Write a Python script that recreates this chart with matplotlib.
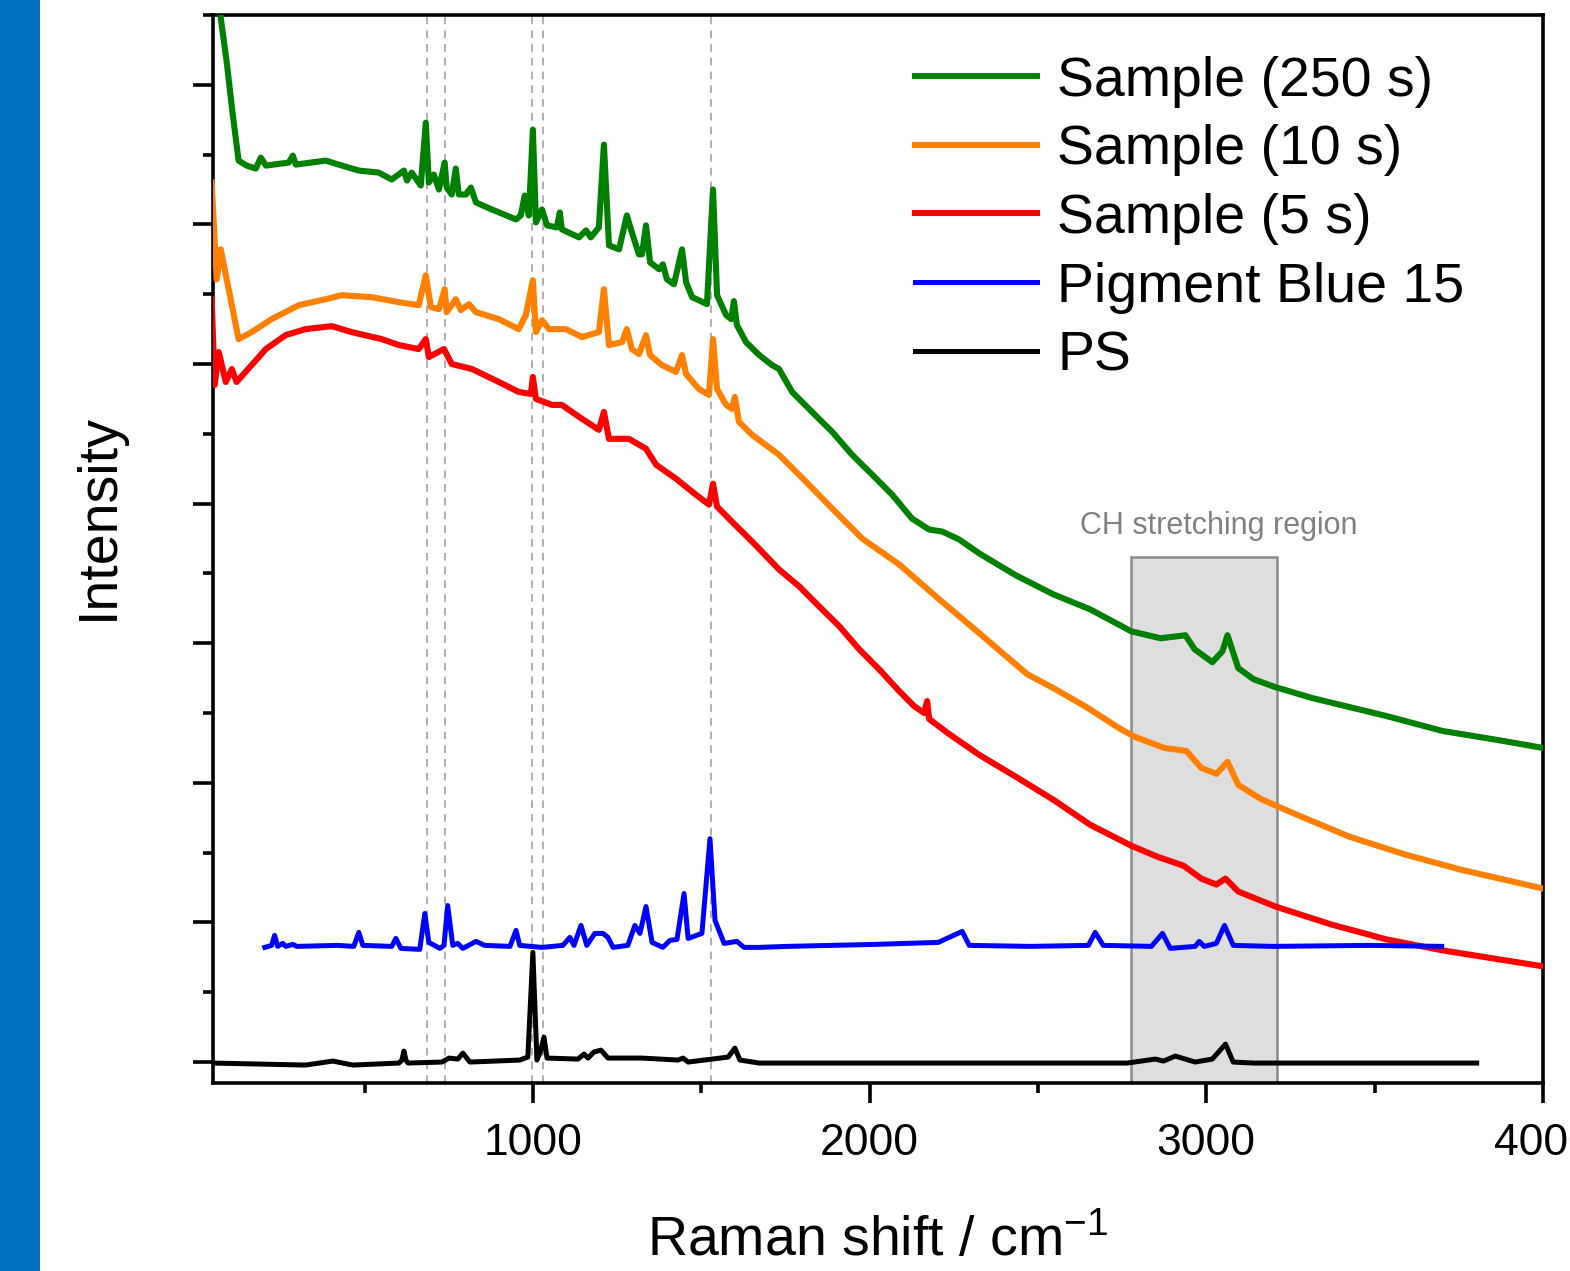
import matplotlib
matplotlib.use("Agg")
import matplotlib.pyplot as plt
from matplotlib.patches import Rectangle
from matplotlib.ticker import MultipleLocator

plt.rcParams['font.family'] = ['Liberation Sans', 'DejaVu Sans']
plt.rcParams['mathtext.fontset'] = 'custom'
plt.rcParams['mathtext.rm'] = 'Liberation Sans'
plt.rcParams['mathtext.default'] = 'regular'

# Raman shift (cm-1) and intensity (a.u.)
green_x = [67, 73, 91, 108, 126, 150, 177, 192, 207, 275, 287, 296, 385, 423, 483, 542, 581, 617, 626, 640,
           667, 682, 691, 706, 721, 738, 744, 759, 771, 780, 801, 816, 831, 878, 950, 964, 976, 988, 1000, 1009,
           1027, 1042, 1071, 1080, 1086, 1137, 1158, 1172, 1196, 1211, 1226, 1256, 1279, 1294, 1315, 1324, 1336,
           1348, 1375, 1386, 1398, 1419, 1443, 1455, 1473, 1493, 1517, 1535, 1547, 1574, 1589, 1597, 1606, 1633,
           1672, 1710, 1731, 1770, 1829, 1889, 1948, 2008, 2067, 2126, 2177, 2216, 2266, 2326, 2435, 2546, 2655,
           2777, 2864, 2938, 2965, 3018, 3048, 3063, 3095, 3140, 3205, 3315, 3425, 3535, 3702, 3865, 4000]
green_y = [1092, 1047, 1002, 952, 904, 899, 896, 907, 899, 902, 909, 900, 904, 900, 894, 892, 885, 894, 884, 892,
           879, 942, 882, 890, 875, 902, 877, 870, 896, 870, 870, 877, 862, 855, 845, 849, 869, 849, 935, 842,
           855, 839, 837, 852, 835, 827, 834, 827, 837, 920, 819, 815, 849, 832, 810, 810, 839,
           802, 795, 800, 785, 780, 815, 782, 767, 764, 760, 875, 769, 749, 745, 763, 739, 722,
           709, 699, 695, 672, 652, 632, 609, 589, 569, 545, 534, 532, 524, 510, 488, 469, 454,
           432, 425, 428, 414, 401, 412, 428, 395, 384, 376, 365, 356, 347, 332, 323, 315]

orange_x = [46, 61, 73, 126, 165, 224, 305, 385, 432, 522, 602, 661, 682, 697, 721, 738, 744, 771, 786, 810,
            831, 899, 958, 979, 1000, 1009, 1027, 1048, 1098, 1146, 1196, 1211, 1226, 1265, 1279, 1294, 1315,
            1336, 1348, 1383, 1425, 1443, 1455, 1493, 1523, 1535, 1547, 1574, 1591, 1600, 1612, 1651, 1731,
            1811, 1889, 1978, 2088, 2207, 2326, 2468, 2546, 2644, 2745, 2789, 2875, 2941, 2985, 3030,
            3063, 3095, 3161, 3262, 3425, 3592, 3755, 4000]
orange_y = [882, 785, 815, 725, 732, 745, 759, 765, 769, 767, 762, 759, 789, 757, 755, 775, 752, 765, 754, 760,
            752, 745, 735, 749, 784, 732, 744, 735, 735, 727, 732, 775, 719, 722, 735, 715, 710,
            729, 709, 699, 692, 709, 690, 675, 669, 725, 675, 659, 655, 667, 642, 629, 609,
            582, 555, 525, 499, 464, 430, 389, 375, 356, 334, 326, 315, 312, 295, 289,
            301, 278, 264, 249, 226, 208, 193, 174]

red_x = [46, 55, 67, 88, 106, 120, 165, 207, 266, 325, 403, 462, 551, 602, 661, 682, 691, 736, 759, 819,
         899, 958, 994, 1000, 1009, 1057, 1086, 1146, 1196, 1211, 1226, 1285, 1336, 1366, 1425, 1484, 1523,
         1535, 1547, 1591, 1651, 1731, 1791, 1850, 1910, 1969, 2028, 2088, 2132, 2162, 2171, 2177, 2236,
         2326, 2435, 2546, 2655, 2777, 2854, 2932, 2985, 3030, 3057, 3095, 3205, 3371, 3535, 3702, 4000]
red_y = [765, 679, 712, 682, 695, 682, 699, 715, 729, 735, 738, 732, 725, 719, 715, 725, 707, 715, 700, 695,
         682, 672, 670, 687, 665, 659, 659, 645, 634, 652, 625, 625, 615, 599, 585, 569, 559,
         580, 557, 542, 522, 494, 477, 457, 437, 414, 394, 372, 357, 350, 362, 344, 329,
         308, 286, 263, 238, 217, 206, 197, 184, 178, 184, 171, 156, 138, 123, 112, 96]

pb15_x = [204, 224, 233, 242, 257, 266, 287, 299, 421, 468, 483, 495, 581, 593, 608, 664, 679, 691, 724, 736,
          747, 762, 777, 792, 831, 857, 932, 950, 961, 1027, 1089, 1110, 1122, 1143, 1160, 1184, 1208, 1223,
          1238, 1282, 1303, 1318, 1336, 1354, 1386, 1407, 1428, 1449, 1461, 1502, 1526, 1541, 1568, 1606,
          1627, 1672, 1755, 2016, 2204, 2275, 2296, 2477, 2650, 2670, 2694, 2837, 2870, 2893, 2967, 2979,
          2994, 3030, 3054, 3080, 3196, 3485, 3699]
pb15_y = [115, 117, 127, 116, 119, 116, 118, 116, 117, 116, 130, 117, 116, 124, 114, 113, 149, 120, 114, 117,
          157, 117, 119, 114, 121, 117, 116, 132, 117, 115, 117, 125, 117, 137, 117, 129, 129, 125,
          115, 117, 137, 129, 156, 120, 115, 122, 123, 169, 124, 129, 224, 142, 119, 121,
          115, 115, 116, 118, 120, 131, 117, 116, 117, 130, 117, 116, 129, 114, 116, 121,
          116, 119, 137, 117, 116, 117, 116]

ps_x = [49, 325, 406, 465, 602, 611, 617, 623, 629, 730, 751, 777, 792, 813, 961, 985, 1000, 1012, 1021, 1033,
        1042, 1134, 1152, 1164, 1181, 1202, 1223, 1324, 1431, 1446, 1461, 1580, 1600, 1615, 1672, 1755,
        2765, 2849, 2873, 2908, 2967, 3018, 3057, 3080, 3140, 3803]
ps_y = [-1, -3, 1, -3, -1, 2, 11, 2, -1, 0, 4, 3, 9, 0, 2, 5, 110, 2, 9, 25,
        4, 3, 8, 4, 10, 12, 4, 4, 2, 4, 0, 5, 14, 2, -1, -1,
        -1, 3, 1, 6, 0, 3, 18, 0, -1, -1]

marker_lines = [685, 738, 998, 1030, 1530]
ch_region = (2775, 3210)
ch_top = 506

fig = plt.figure(figsize=(15.7, 12.71), dpi=100)
fig.patches.append(Rectangle((0, 0), 40 / 1570, 1, transform=fig.transFigure,
                             facecolor='#0070C0', edgecolor='none'))
ax = fig.add_axes([213 / 1570, 1 - 1083 / 1271, 1330 / 1570, 1068 / 1271])

ymin, ymax = -21, 1050
ax.add_patch(Rectangle((ch_region[0], ymin), ch_region[1] - ch_region[0], ch_top - ymin,
                       facecolor='#dedede', edgecolor='#8a8a8a', linewidth=1.8, zorder=1))
ax.text(sum(ch_region) / 2 + 45, 538, 'CH stretching region', color='#808080', fontsize=22,
        ha='center', va='center')

for xv in marker_lines:
    ax.axvline(xv, color='#9a9a9a', linewidth=1.1, linestyle=(0, (5, 4)), zorder=1.5)

ax.plot(green_x, green_y, color='#008000', lw=4.4, label='Sample (250 s)', zorder=4)
ax.plot(orange_x, orange_y, color='#FF8000', lw=4.4, label='Sample (10 s)', zorder=3.5)
ax.plot(red_x, red_y, color='#FF0000', lw=4.4, label='Sample (5 s)', zorder=3)
ax.plot(pb15_x, pb15_y, color='#0000FF', lw=3.6, label='Pigment Blue 15', zorder=3.2)
ax.plot(ps_x, ps_y, color='black', lw=3.6, label='PS', zorder=3)

ax.set_xlim(50, 4000)
ax.set_ylim(ymin, ymax)
ax.xaxis.set_major_locator(MultipleLocator(1000))
ax.xaxis.set_minor_locator(MultipleLocator(500))
ax.yaxis.set_major_locator(MultipleLocator(140))
ax.yaxis.set_minor_locator(MultipleLocator(70))
ax.tick_params(which='both', direction='out', width=2.6, labelsize=32, pad=14)
ax.tick_params(which='major', length=14.5)
ax.tick_params(which='minor', length=7.2)
ax.tick_params(axis='y', labelleft=False)
for sp in ax.spines.values():
    sp.set_linewidth(2.6)

ax.set_xlabel('Raman shift / cm$^{-1}$', fontsize=40, labelpad=37)
ax.set_ylabel('Intensity', fontsize=40)
ax.yaxis.set_label_coords((125 - 213) / 1330, (1083 - 517) / 1068)

ax.legend(loc='upper left', bbox_to_anchor=((915 - 213) / 1330, 0.962), frameon=False,
          fontsize=40, handlelength=2.2, handletextpad=0.36, labelspacing=0.3,
          borderpad=0, borderaxespad=0)

fig.savefig('out.png', dpi=100)
